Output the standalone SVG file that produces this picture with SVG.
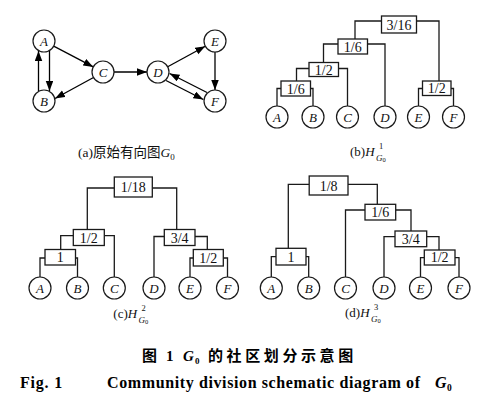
<svg xmlns="http://www.w3.org/2000/svg" width="497" height="403" viewBox="0 0 497 403">
<defs>
<marker id="arr" markerUnits="userSpaceOnUse" markerWidth="11" markerHeight="8" refX="10" refY="3.75" orient="auto">
<path d="M0,0 L10,3.75 L0,7.5 z" fill="#000"/>
</marker>
<style>
.nd{fill:#fff;stroke:#1a1a1a;stroke-width:1.2}
.bx{fill:#fff;stroke:#1a1a1a;stroke-width:1.3}
.lb{font-family:"Liberation Serif",serif;font-style:italic;font-size:13px;text-anchor:middle;fill:#111}
.bl{font-family:"Liberation Serif",serif;font-size:14px;text-anchor:middle;fill:#111}
.ln{fill:none;stroke:#1a1a1a;stroke-width:1.3}
.ed{fill:none;stroke:#000;stroke-width:1.3;marker-end:url(#arr)}
.cap{font-family:"Liberation Serif","Noto Sans CJK SC",serif;font-size:13px;fill:#111}
.it{font-style:italic}
.sup{font-size:8.5px}
.sub{font-size:9px}
.sub2{font-size:6.5px}
.t1{font-family:"Noto Sans CJK SC",sans-serif;font-weight:bold;font-size:15px;fill:#000}
.t2{font-family:"Liberation Serif",serif;font-weight:bold;font-size:16px;fill:#000}
</style>
</defs>
<rect width="497" height="403" fill="#fff"/>

<!-- connectors -->
<g id="connectors">
<!-- panel a edges -->
<line class="ed" x1="49.5" y1="51" x2="49.5" y2="91"/>
<line class="ed" x1="38.5" y1="91" x2="38.5" y2="51"/>
<line class="ed" x1="53.7" y1="46.1" x2="93.3" y2="66.9"/>
<line class="ed" x1="93.5" y1="77.5" x2="55" y2="98.5"/>
<line class="ed" x1="114" y1="72" x2="147" y2="72"/>
<line class="ed" x1="167.7" y1="66.7" x2="205.3" y2="46.3"/>
<line class="ed" x1="215" y1="52" x2="215" y2="90"/>
<line class="ed" x1="166" y1="80.5" x2="203.3" y2="99.5"/>
<line class="ed" x1="207" y1="92.5" x2="169.6" y2="73.5"/>
<!-- panel b tree -->
<path class="ln" d="M381.5,21 H355 V39 M416.5,21 H439 V81"/>
<path class="ln" d="M338,44 H323.5 V62.5 M367.5,44 H385 V106"/>
<path class="ln" d="M309,68.5 H296.5 V81 M338.5,68.5 H347.5 V106"/>
<path class="ln" d="M281,88.5 H277 V106 M310.5,88.5 H313 V106"/>
<path class="ln" d="M422.5,88.5 H418.5 V106 M451,88.5 H453.5 V106"/>
<!-- panel c tree -->
<path class="ln" d="M114.3,188 H87.3 V229.5 M152.3,188 H176.7 V229.5"/>
<path class="ln" d="M73.3,235.7 H60.7 V249.5 M104.3,235.7 H114.3 V277"/>
<path class="ln" d="M45,258 H40 V277 M75.5,258 H77.5 V277"/>
<path class="ln" d="M164.3,236.5 H154 V277 M195,236.5 H207.3 V249.5"/>
<path class="ln" d="M193.3,258 H190 V277 M223.3,258 H227.5 V277"/>
<!-- panel d tree -->
<path class="ln" d="M309.2,184.3 H288.3 V248.3 M348,184.3 H377.3 V204.3"/>
<path class="ln" d="M365,210 H345.5 V277 M395.7,210 H411 V231"/>
<path class="ln" d="M395,236.7 H384 V277 M426.7,236.7 H439 V250"/>
<path class="ln" d="M424.3,257.7 H420.5 V277 M455,257.7 H459 V277"/>
<path class="ln" d="M276,256.7 H271.3 V277 M306,256.7 H308.7 V277"/>
</g>

<!-- panel a nodes -->
<g id="a-A"><circle class="nd" cx="44" cy="41" r="11"/><text class="lb" x="44" y="45.5">A</text></g>
<g id="a-B"><circle class="nd" cx="44" cy="101" r="11"/><text class="lb" x="44" y="105.5">B</text></g>
<g id="a-C"><circle class="nd" cx="103" cy="72" r="11"/><text class="lb" x="103" y="76.5">C</text></g>
<g id="a-D"><circle class="nd" cx="158" cy="72" r="11"/><text class="lb" x="158" y="76.5">D</text></g>
<g id="a-E"><circle class="nd" cx="215" cy="41" r="11"/><text class="lb" x="215" y="45.5">E</text></g>
<g id="a-F"><circle class="nd" cx="215" cy="101" r="11"/><text class="lb" x="215" y="105.5">F</text></g>

<!-- panel b nodes -->
<g id="b-A"><circle class="nd" cx="277" cy="117" r="11"/><text class="lb" x="277" y="121.5">A</text></g>
<g id="b-B"><circle class="nd" cx="313" cy="117" r="11"/><text class="lb" x="313" y="121.5">B</text></g>
<g id="b-C"><circle class="nd" cx="347.5" cy="117" r="11"/><text class="lb" x="347.5" y="121.5">C</text></g>
<g id="b-D"><circle class="nd" cx="385" cy="117" r="11"/><text class="lb" x="385" y="121.5">D</text></g>
<g id="b-E"><circle class="nd" cx="418.5" cy="117" r="11"/><text class="lb" x="418.5" y="121.5">E</text></g>
<g id="b-F"><circle class="nd" cx="453.5" cy="117" r="11"/><text class="lb" x="453.5" y="121.5">F</text></g>
<g id="b-316"><rect class="bx" x="381.5" y="16" width="35" height="17"/><text class="bl" x="399" y="29.5">3/16</text></g>
<g id="b-16a"><rect class="bx" x="338" y="39" width="29.5" height="15"/><text class="bl" x="352.7" y="51.5">1/6</text></g>
<g id="b-12a"><rect class="bx" x="309" y="62.5" width="29.5" height="14"/><text class="bl" x="323.7" y="74.5">1/2</text></g>
<g id="b-16b"><rect class="bx" x="281" y="81" width="29.5" height="15"/><text class="bl" x="295.7" y="93.5">1/6</text></g>
<g id="b-12b"><rect class="bx" x="422.5" y="81" width="28.5" height="14.5"/><text class="bl" x="436.7" y="93.3">1/2</text></g>

<!-- panel c nodes -->
<g id="c-A"><circle class="nd" cx="40" cy="288" r="11"/><text class="lb" x="40" y="292.5">A</text></g>
<g id="c-B"><circle class="nd" cx="77.5" cy="288" r="11"/><text class="lb" x="77.5" y="292.5">B</text></g>
<g id="c-C"><circle class="nd" cx="114.3" cy="288" r="11"/><text class="lb" x="114.3" y="292.5">C</text></g>
<g id="c-D"><circle class="nd" cx="154" cy="288" r="11"/><text class="lb" x="154" y="292.5">D</text></g>
<g id="c-E"><circle class="nd" cx="190" cy="288" r="11"/><text class="lb" x="190" y="292.5">E</text></g>
<g id="c-F"><circle class="nd" cx="227.5" cy="288" r="11"/><text class="lb" x="227.5" y="292.5">F</text></g>
<g id="c-118"><rect class="bx" x="114.3" y="177" width="38" height="20"/><text class="bl" x="133.3" y="192">1/18</text></g>
<g id="c-12a"><rect class="bx" x="73.3" y="229.5" width="31" height="16"/><text class="bl" x="88.8" y="242.5">1/2</text></g>
<g id="c-1"><rect class="bx" x="45" y="249.5" width="30.5" height="15.5"/><text class="bl" x="60.2" y="262.3">1</text></g>
<g id="c-34"><rect class="bx" x="164.3" y="229.5" width="30.7" height="16"/><text class="bl" x="179.6" y="242.5">3/4</text></g>
<g id="c-12b"><rect class="bx" x="193.3" y="249.5" width="30" height="16.5"/><text class="bl" x="208.3" y="262.8">1/2</text></g>

<!-- panel d nodes -->
<g id="d-A"><circle class="nd" cx="271.3" cy="288" r="11"/><text class="lb" x="271.3" y="292.5">A</text></g>
<g id="d-B"><circle class="nd" cx="308.7" cy="288" r="11"/><text class="lb" x="308.7" y="292.5">B</text></g>
<g id="d-C"><circle class="nd" cx="345.5" cy="288" r="11"/><text class="lb" x="345.5" y="292.5">C</text></g>
<g id="d-D"><circle class="nd" cx="384" cy="288" r="11"/><text class="lb" x="384" y="292.5">D</text></g>
<g id="d-E"><circle class="nd" cx="420.5" cy="288" r="11"/><text class="lb" x="420.5" y="292.5">E</text></g>
<g id="d-F"><circle class="nd" cx="459" cy="288" r="11"/><text class="lb" x="459" y="292.5">F</text></g>
<g id="d-18"><rect class="bx" x="309.2" y="176" width="38.8" height="19"/><text class="bl" x="328.6" y="190.5">1/8</text></g>
<g id="d-16"><rect class="bx" x="365" y="204.3" width="30.7" height="15.7"/><text class="bl" x="380.3" y="217">1/6</text></g>
<g id="d-34"><rect class="bx" x="395" y="231" width="31.7" height="15.7"/><text class="bl" x="410.8" y="243.7">3/4</text></g>
<g id="d-12"><rect class="bx" x="424.3" y="250" width="30.7" height="15"/><text class="bl" x="439.6" y="262.3">1/2</text></g>
<g id="d-1"><rect class="bx" x="276" y="248.3" width="30" height="16.7"/><text class="bl" x="291" y="261.5">1</text></g>

<!-- captions -->
<text class="cap" x="78" y="157" style="font-size:13.5px">(a)原始有向图<tspan class="it">G</tspan><tspan style="font-size:9px" dy="2.5">0</tspan></text>
<g id="cap-b"><text class="cap" x="350" y="156">(b)<tspan class="it">H</tspan></text>
<text class="cap sup" x="379" y="148.5">1</text>
<text class="cap it sub" x="376" y="160.5">G</text><text class="cap sub2" x="382.5" y="162">0</text></g>
<g id="cap-c"><text class="cap" x="113.3" y="318">(c)<tspan class="it">H</tspan></text>
<text class="cap sup" x="141.5" y="310.5">2</text>
<text class="cap it sub" x="138.5" y="322.5">G</text><text class="cap sub2" x="145" y="324">0</text></g>
<g id="cap-d"><text class="cap" x="345" y="317">(d)<tspan class="it">H</tspan></text>
<text class="cap sup" x="374" y="309.5">3</text>
<text class="cap it sub" x="371" y="321.5">G</text><text class="cap sub2" x="377.5" y="323">0</text></g>

<g id="title-cn">
<text class="t1" x="142" y="361">图</text>
<text class="t2" x="166" y="361" style="font-size:15px">1</text>
<text class="t2 it" x="183" y="361" style="font-size:15px">G</text><text class="t2" x="195" y="363.5" style="font-size:9px">0</text>
<text class="t1" x="208" y="361" letter-spacing="3.6">的社区划分示意图</text>
</g>
<g id="title-en">
<text class="t2" x="20" y="388" letter-spacing="0.8">Fig. 1</text>
<text class="t2" x="107" y="388" textLength="313" lengthAdjust="spacing">Community division schematic diagram of</text>
<text class="t2 it" x="435" y="388">G</text><text class="t2" x="447" y="390.5" style="font-size:9.5px">0</text>
</g>
</svg>
